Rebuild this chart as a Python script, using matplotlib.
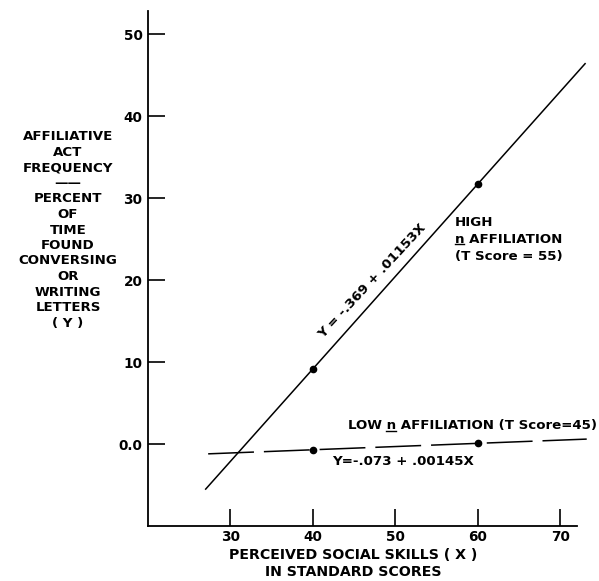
import matplotlib
matplotlib.use("Agg")
import matplotlib.pyplot as plt
from matplotlib.lines import Line2D

# ---- data ----
high_line_x = [27.0, 73.0]
high_line_y = [-5.5, 46.4]
high_pts_x = [40, 60]
high_pts_y = [9.1, 31.7]

low_line_x = [27.3, 73.2]
low_line_y = [-1.2, 0.6]
low_pts_x = [40, 60]
low_pts_y = [-0.7, 0.1]

x_ticks = [30, 40, 50, 60, 70]
x_ticklabels = ["30", "40", "50", "60", "70"]
y_ticks = [0, 10, 20, 30, 40, 50]
y_ticklabels = ["0.0", "10", "20", "30", "40", "50"]

plt.rcParams['font.family'] = ['DejaVu Sans']
plt.rcParams['font.weight'] = 'bold'

W, H = 599, 581
fig = plt.figure(figsize=(W / 100, H / 100), dpi=100)
ax = fig.add_axes([0.247, 0.0947, 0.716, 0.886])
ax.set_xlim(20, 72)
ax.set_ylim(-10, 52.8)

for s in ("top", "right"):
    ax.spines[s].set_visible(False)
for s in ("left", "bottom"):
    ax.spines[s].set_linewidth(1.3)

ax.set_xticks(x_ticks)
ax.set_xticklabels(x_ticklabels, fontweight="bold")
ax.set_yticks(y_ticks)
ax.set_yticklabels(y_ticklabels, fontweight="bold")
ax.tick_params(direction="in", length=12, width=1.2, labelsize=9.8)
ax.tick_params(axis="x", pad=3)
ax.tick_params(axis="y", pad=4)

# high line
ax.plot(high_line_x, high_line_y, color="black", lw=1.1, clip_on=False)
ax.plot(high_pts_x, high_pts_y, "o", color="black", ms=4.5, clip_on=False)

# low line
ax.plot(low_line_x, low_line_y, color="black", lw=1.1,
        linestyle=(0, (30, 6.5)), clip_on=False)
ax.plot(low_pts_x, low_pts_y, "o", color="black", ms=4.5, clip_on=False)

FS = 9.6
FW = "bold"
# annotations
ax.text(57.2, 27.0, "HIGH", fontsize=FS, fontweight=FW, ha="left", va="center")
t_high_n = ax.text(57.2, 25.0, "n AFFILIATION", fontsize=FS, fontweight=FW,
                   ha="left", va="center")
ax.text(57.2, 22.9, "(T Score = 55)", fontsize=FS, fontweight=FW,
        ha="left", va="center")
ax.text(47.2, 19.8, "Y = -.369 + .01153X", fontsize=FS, fontweight=FW,
        rotation=47, ha="center", va="center", rotation_mode="anchor")
t_low = ax.text(44.2, 2.2, "LOW n AFFILIATION (T Score=45)",
                fontsize=FS, fontweight=FW, ha="left", va="center", clip_on=False)
ax.text(42.3, -2.1, "Y=-.073 + .00145X", fontsize=FS, fontweight=FW,
        ha="left", va="center")

ylabel = ("AFFILIATIVE\nACT\nFREQUENCY\n\u2014\u2014\nPERCENT\nOF\nTIME\nFOUND\n"
          "CONVERSING\nOR\nWRITING\nLETTERS\n( Y )")
fig.text(68 / W, 1 - 230 / H, ylabel, fontsize=FS, fontweight=FW, ha="center",
         va="center", linespacing=1.25)

ax.set_xlabel("PERCEIVED SOCIAL SKILLS ( X )\nIN STANDARD SCORES",
              fontsize=10.2, fontweight=FW, linespacing=1.3)
ax.xaxis.set_label_coords(0.478, -0.043, transform=ax.transAxes)
ax.xaxis.label.set_va("top")

# underline the "n" glyphs
fig.canvas.draw()
renderer = fig.canvas.get_renderer()


def text_width(s):
    t = fig.text(0, 0, s, fontsize=FS, fontweight=FW)
    w = t.get_window_extent(renderer).width
    t.remove()
    return w


def underline(txt, prefix):
    bb = txt.get_window_extent(renderer)
    x_end = bb.x0 + text_width(prefix + "n")
    x_start = x_end - text_width("n")
    y = bb.y0 + 1.5
    fig.add_artist(Line2D([x_start / W, x_end / W], [y / H, y / H],
                          transform=fig.transFigure, color="black", lw=1.0))


underline(t_high_n, "")
underline(t_low, "LOW ")

fig.savefig("out.png", dpi=100)
